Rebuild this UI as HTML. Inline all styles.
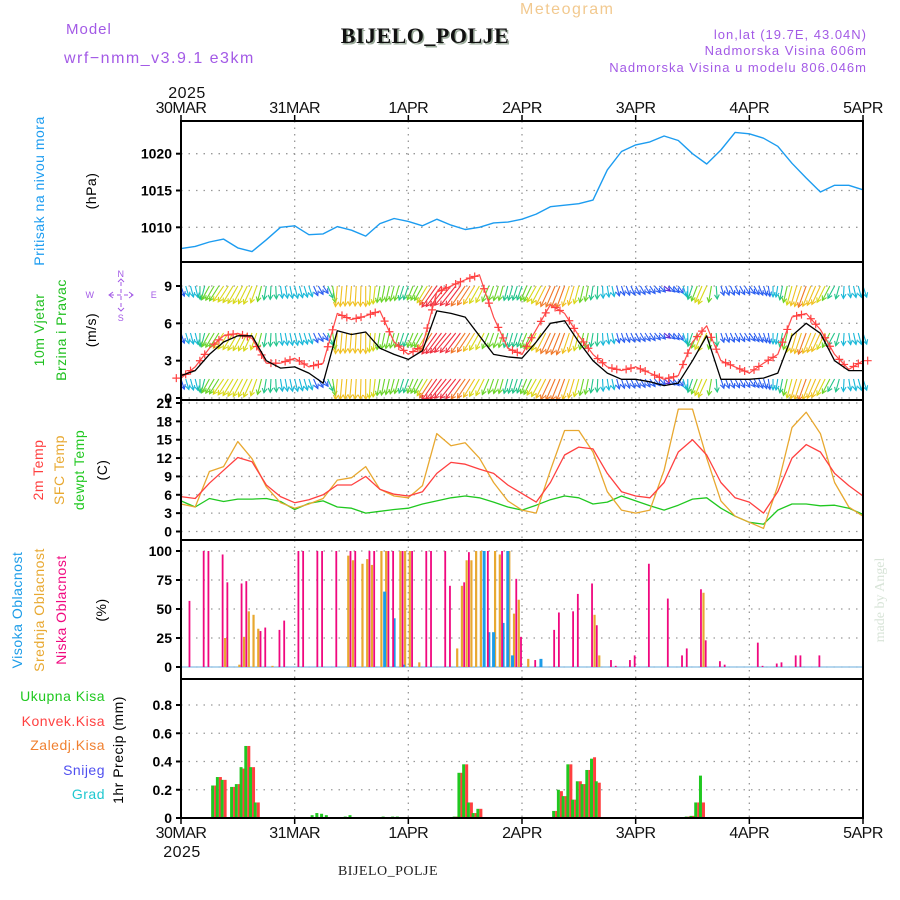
<!DOCTYPE html>
<html><head><meta charset="utf-8"><style>
html,body{margin:0;padding:0;background:#fff;}
svg{display:block;font-family:"Liberation Sans",sans-serif;}
</style></head><body>
<svg id="chart" width="900" height="900" viewBox="0 0 900 900" xmlns="http://www.w3.org/2000/svg">
<rect width="900" height="900" fill="#fff"/>
<text x="66" y="34" font-size="15" fill="#a35ae6" letter-spacing="1">Model</text>
<text x="64" y="63" font-size="16" fill="#a35ae6" letter-spacing="1.5">wrf−nmm_v3.9.1  e3km</text>
<text x="520" y="14" font-size="16" fill="#f2c98f" letter-spacing="1.5">Meteogram</text>
<text x="425" y="43" font-size="22" font-weight="bold" text-anchor="middle" font-family="Liberation Serif,serif" fill="#9a9" letter-spacing="0.5" dx="1.5" dy="1.5">BIJELO_POLJE</text>
<text x="425" y="43" font-size="22" font-weight="bold" text-anchor="middle" font-family="Liberation Serif,serif" fill="#111" letter-spacing="0.5">BIJELO_POLJE</text>
<text x="867" y="39" font-size="13" fill="#a35ae6" text-anchor="end" letter-spacing="1">lon,lat (19.7E, 43.04N)</text>
<text x="867" y="55" font-size="13" fill="#a35ae6" text-anchor="end" letter-spacing="1">Nadmorska Visina 606m</text>
<text x="867" y="72" font-size="13" fill="#a35ae6" text-anchor="end" letter-spacing="1">Nadmorska Visina u modelu 806.046m</text>
<text x="388" y="875" font-size="14" text-anchor="middle" font-family="Liberation Serif,serif" fill="#222" letter-spacing="0.5">BIJELO_POLJE</text>
<text transform="translate(884,600) rotate(-90)" font-size="14" text-anchor="middle" font-family="Liberation Serif,serif" fill="#d8e4d8">made by Angel</text>
<g stroke="#a35ae6" stroke-width="1" fill="none">
<line x1="110" y1="295" x2="132" y2="295" stroke-dasharray="4,3"/>
<line x1="121" y1="282" x2="121" y2="308" stroke-dasharray="4,3"/>
<polyline points="113,292 109,295 113,298"/>
<polyline points="129,292 133,295 129,298"/>
<polyline points="118,282 121,279 124,282"/>
<polyline points="118,308 121,311 124,308"/>
</g>
<g id="g"></g>
</svg>
<script>
// ---- data ----
const dayLabels=["30MAR","31MAR","1APR","2APR","3APR","4APR","5APR"];
const pressure=[1007.1,1007.4,1008,1008.4,1007.2,1006.7,1008.3,1010,1010.2,1009,1009.1,1010.1,1009.6,1008.8,1010.5,1011.2,1010.8,1010.2,1011.1,1010.3,1009.7,1010,1010.6,1010.7,1011.1,1011.8,1012.8,1013,1013.2,1013.7,1017.8,1020.3,1021.2,1021.6,1022.4,1021.8,1020,1018.6,1020.5,1022.9,1022.7,1022.1,1021,1018.7,1016.7,1014.8,1015.7,1015.7,1015.1];
const windSpeed=[1.8,2.2,3.5,4.5,5,5,3,2.4,2.5,2,1.2,5.4,5.1,5.3,4,3.5,3.1,3.8,7,6.8,6.5,5,3.5,3.3,3.2,4.5,6,6.2,4.5,3,2,1.5,1.5,1.3,1.0,1.2,3,5,1.5,1.5,1.5,1.6,2,5,6,5.2,3,2.2,2.2];
const windGust=[1.6,2.5,4,5,5.2,4.8,2.8,2.8,3.2,2.5,2.8,6.8,6.3,6.6,7,4.5,3.5,4.2,8.5,9,9.5,9.9,6.5,4,3.5,5.5,7.5,6.8,5,3.5,2.5,2.2,2.5,2,1.5,1.8,4.5,5.8,3,2.5,2,2.8,3.5,6.5,6.8,5.5,3.5,2.3,3];
const windDir=[340,345,30,35,30,25,10,350,345,340,320,5,5,0,10,15,20,30,35,40,35,30,20,15,20,30,25,20,15,10,350,340,330,320,300,320,20,25,340,330,320,340,10,15,20,25,30,350,340];
const temp2m=[5.7,5.4,7.9,10,12.1,11.4,7.6,5.7,4.7,5.2,6,7.6,7.6,9,6.9,6.1,5.8,6.5,9.5,11.3,11,10.2,9.5,7.6,6.2,4.8,8,12.5,13.8,13.5,9.5,6.5,5.8,5.5,8,13,15,12.5,8,5.5,4.8,3,6.5,12,14.2,13,9.5,7.5,5.8];
const tempSfc=[4.5,4,9.8,10.6,14.7,11.9,7.3,4.7,3.8,4.5,5.4,8.4,8.8,10.6,6.9,5.8,5.5,7.5,16,14,14.5,12,8,5,3.5,3,10,16.5,16.5,13,6.5,3.5,3,3.5,10,20,20,12,5,2.5,1.5,0.5,7.5,17,19.5,16,8,4,2.5];
const tempDew=[5,4,5.4,4.9,5.3,5.3,5.4,4.9,3.6,4.6,5,4,3.8,3,3.3,3.6,3.8,4.5,5,5.5,5.8,5.5,4.8,4,3.5,4.3,5.2,5.8,5.5,4.5,4.8,5.8,5,4.2,3.5,4.3,5.3,5.5,3.8,2.5,1.5,1.2,3.5,4.5,4.5,4.2,4.3,3.8,2.8];
const lowHours=[2,5,6,9,10,13,14,17,18,21,22,25,26,29,30,33,36,37,40,41,44,45,47,49,52,53,56,57,60,61,65,68,71,72,75,79,80,83,84,87,88,91,92,95,96,99,103,106,107,110,111,114,115,122,123,126,127,130,131,135];
const lowVals=[57,100,100,97,73,72,74,31,34,32,40,100,100,100,100,100,100,100,100,100,100,100,100,100,100,100,100,70,73,99,100,100,76,26,6,32,47,48,63,72,36,6,1,6,10,89,59,10,16,67,23,5,2,21,1,3,4,10,10,10];
const midHours=[9,12,13,14,15,16,19,35,36,38,39,40,42,43,46,47,48,50,58,59,60,61,62,63,66,67,69,70,71,73,87,88,110];
const midVals=[25,2,26,48,45,33,1,96,92,89,93,88,100,100,100,100,100,4,16,70,92,92,100,100,100,97,100,46,58,7,45,10,64];
const highHours=[43,45,47,64,65,66,68,69,70,76];
const highVals=[65,42,2,100,30,30,38,100,10,7];
const precipHours=[7,8,9,11,12,13,14,15,16,28,29,30,31,35,36,43,45,46,58,59,60,61,62,63,79,80,81,82,83,84,85,86,87,88,107,108,109,110,111];
const precipTotal=[0.23,0.29,0.27,0.22,0.24,0.36,0.51,0.36,0.11,0.02,0.035,0.03,0.02,0.01,0.02,0.01,0.01,0.01,0.01,0.32,0.38,0.11,0.035,0.065,0.05,0.2,0.155,0.38,0.13,0.26,0.24,0.34,0.42,0.26,0.01,0.015,0.11,0.3,0.005];
const precipConv=[0.23,0.29,0.27,0.22,0.24,0.35,0.51,0.36,0.11,0,0,0,0,0,0,0,0,0,0.01,0.32,0.38,0.11,0.035,0.065,0.05,0.19,0.155,0.38,0.13,0.26,0.24,0.34,0.43,0.25,0.01,0.015,0.11,0.11,0.005];
const pTicks=[1010,1015,1020];
const wTicks=[0,3,6,9];
const tTicks=[0,3,6,9,12,15,18,21];
const cTicks=[0,25,50,75,100];
const rTicks=[0,0.2,0.4,0.6,0.8];

// ---- layout ----
const X0=181,X1=863;
const NS='http://www.w3.org/2000/svg';
const G=document.getElementById('g');
function mk(tag,attrs,parent){const e=document.createElementNS(NS,tag);for(const k in attrs)e.setAttribute(k,attrs[k]);(parent||G).appendChild(e);return e;}
const xDay=d=>X0+(X1-X0)*d/6;
const xHour=h=>xDay(h/24);
const xIdx=i=>xDay(i*0.125);
const panels={
 p:{top:121,bot:262,v0:1010,y0:227.3,v1:1020,y1:153.7},
 w:{top:262,bot:400,v0:0,y0:398,v1:9,y1:286},
 t:{top:400,bot:540,v0:0,y0:531.5,v1:21,y1:403},
 c:{top:540,bot:679,v0:0,y0:667,v1:100,y1:551},
 r:{top:679,bot:818,v0:0,y0:818,v1:0.8,y1:705}
};
function yS(p){return v=>p.y0+(v-p.v0)*(p.y1-p.y0)/(p.v1-p.v0);}
const yP=yS(panels.p),yW=yS(panels.w),yT=yS(panels.t),yC=yS(panels.c),yR=yS(panels.r);

function gridAndAxes(key,p,ticks,ys,fmt){
  const gg=mk('g',{});
  
  
  for(let d=1;d<6;d++){
    const l=mk('line',{x1:xDay(d),x2:xDay(d),y1:p.top,y2:p.bot,stroke:'#999','stroke-width':1.3,'stroke-dasharray':'1.5,5'},gg);
    
    
  }
  ticks.forEach(v=>{
    const y=ys(v);
    const l=mk('line',{x1:X0,x2:X1,y1:y,y2:y,stroke:'#999','stroke-width':1.3,'stroke-dasharray':'1.5,6'},gg);
    
    
    mk('line',{x1:X0-5,x2:X0,y1:y,y2:y,stroke:'#000','stroke-width':2},gg);
    const t=mk('text',{x:X0-9,y:y+5,'font-size':14,'text-anchor':'end',fill:'#000','font-weight':'bold'},gg);
    t.textContent=fmt(v);
    
    
  });
}
gridAndAxes('pressure',panels.p,pTicks,yP,v=>v);
gridAndAxes('wind',panels.w,wTicks,yW,v=>v);
gridAndAxes('temp',panels.t,tTicks,yT,v=>v);
gridAndAxes('cloud',panels.c,cTicks,yC,v=>v);
gridAndAxes('precip',panels.r,rTicks,yR,v=>v===0?'0':v.toFixed(1));

function polyline(vals,xf,ys,color,w,name){
  const pts=vals.map((v,i)=>xf(i).toFixed(1)+','+ys(v).toFixed(1)).join(' ');
  const l=mk('polyline',{points:pts,fill:'none',stroke:color,'stroke-width':w,'stroke-linejoin':'round'});
  
  
  return l;
}
polyline(pressure,xIdx,yP,'#1c9cf0',1.4,'pressure-line');

function windColor(s){
  const stops=[[1,'#5a28d0'],[1.8,'#2a5ef0'],[2.5,'#18b8d8'],[3.3,'#22c48a'],[4.2,'#6ad42a'],[5,'#d8d818'],[5.8,'#f0c020'],[6.5,'#f07828'],[7.5,'#f03040'],[9,'#f0109a']];
  for(let i=0;i<stops.length;i++){if(s<=stops[i][0])return stops[i][1];}
  return stops[stops.length-1][1];
}
const barbG=mk('g',{});


const rows=[286,333,379];
for(let h=0;h<=144;h++){
  const f=h/3,i=Math.min(Math.floor(f),47),fr=f-i;
  const s=windSpeed[i]*(1-fr)+windSpeed[i+1]*fr;
  let d1=windDir[i],d2=windDir[i+1];let dd=d2-d1;if(dd>180)dd-=360;if(dd<-180)dd+=360;
  const dir=(d1+dd*fr)*Math.PI/180;
  const len=4+s*3.1;
  const dx=-Math.sin(dir)*len, dy=Math.cos(dir)*len*0.9+2;
  const c=windColor(s);
  const x=xHour(h);
  rows.forEach(y0=>{
    const x2=x+dx,y2=y0+Math.abs(dy);
    mk('line',{x1:x,y1:y0,x2:x2,y2:y2,stroke:c,'stroke-width':1.1},barbG);
    const a=Math.atan2(y2-y0,x2-x);
    mk('polyline',{points:`${x2-5*Math.cos(a-0.5)},${y2-5*Math.sin(a-0.5)} ${x2},${y2} ${x2-5*Math.cos(a+0.5)},${y2-5*Math.sin(a+0.5)}`,fill:'none',stroke:c,'stroke-width':1.1},barbG);
  });
}
polyline(windGust,xIdx,yW,'#ff4a4a',1.2,'wind-gust-line');
const gm=mk('g',{});


windGust.forEach((v,i)=>{
  for(const o of [-0.33,0.33]){
    const x=xDay((i+o)*0.125),j=Math.min(i+(o>0?1:-1),48),jj=Math.max(j,0);
    const vv=v+(windGust[jj]-v)*0.33;
    const y=yW(vv);
    mk('path',{d:`M${x-4},${y}h8M${x},${y-4}v8`,stroke:'#ff4040','stroke-width':1.2},gm);
  }
});
polyline(windSpeed,xIdx,yW,'#000',1.3,'wind-speed-line');

polyline(tempDew,xIdx,yT,'#20c820',1.3,'dewpoint-line');
polyline(tempSfc,xIdx,yT,'#e8a830',1.3,'sfc-temp-line');
polyline(temp2m,xIdx,yT,'#ff4040',1.3,'temp-2m-line');

mk('line',{x1:X0,x2:X1,y1:yC(0),y2:yC(0),stroke:'#9cc8e8','stroke-width':1.5});
function cloudBars(hours,vals,color,off,w,name){
  hours.forEach((h,i)=>{
    const x=xHour(h)+off,y=yC(vals[i]);
    const r=mk('rect',{x:x-w/2,y:y,width:w,height:yC(0)-y,fill:color});
    
    
  });
}
cloudBars(midHours,midVals,'#e8a830',1.5,2.2,'mid-cloud-bar');
cloudBars(highHours,highVals,'#1c9ce8',0,3,'high-cloud-bar');
cloudBars(lowHours,lowVals,'#f0087f',-1,1.8,'low-cloud-bar');

precipHours.forEach((h,i)=>{
  const x=xHour(h);
  const yt=yR(precipTotal[i]),yc=yR(precipConv[i]);
  const g1=mk('rect',{x:x-3,y:yt,width:3,height:yR(0)-yt,fill:'#20c820'});
  
  
  const r1=mk('rect',{x:x,y:yc,width:3,height:yR(0)-yc,fill:'#ff4040'});
  
  
});

[['pressure-panel',121,262],['wind-panel',262,400],['temp-panel',400,540],['cloud-panel',540,679],['precip-panel',679,818]].forEach(([n,t,b])=>{
  const r=mk('rect',{x:X0,y:t,width:X1-X0,height:b-t,fill:'none',stroke:'#000','stroke-width':2});
  
  
});
dayLabels.forEach((lab,d)=>{
  const x=xDay(d);
  mk('line',{x1:x,x2:x,y1:115,y2:121,stroke:'#000','stroke-width':1.5});
  mk('line',{x1:x,x2:x,y1:818,y2:824,stroke:'#000','stroke-width':1.5});
  const t=mk('text',{x:x,y:113,'font-size':16,'text-anchor':'middle',fill:'#111','letter-spacing':'-0.5'});
  t.textContent=lab;
  
  
  const b=mk('text',{x:x,y:838,'font-size':16,'text-anchor':'middle',fill:'#111','letter-spacing':'-0.5'});
  b.textContent=lab;
  
  
});
function txt(x,y,s,size,col,name,rot,anchor){
  const t=mk('text',{x:0,y:0,'font-size':size,fill:col,'text-anchor':anchor||'middle',transform:`translate(${x},${y})`+(rot?' rotate(-90)':''),'letter-spacing':'0.5'});
  t.textContent=s;
  
  
}
txt(187,98,'2025',16,'#111','top-year');
txt(182,857,'2025',16,'#111','bottom-year');
txt(44,191,'Pritisak na nivou mora',14,'#1c9cf0','pressure-title',1);
txt(96,191,'(hPa)',14,'#000','pressure-unit',1);
txt(44,330,'10m Vjetar',14,'#20c020','wind-title-1',1);
txt(66,330,'Brzina i Pravac',14,'#20c020','wind-title-2',1);
txt(96,330,'(m/s)',14,'#000','wind-unit',1);
txt(43,470,'2m Temp',14,'#ff4040','temp-2m-title',1);
txt(64,470,'SFC Temp',14,'#e8a830','sfc-temp-title',1);
txt(84,470,'dewpt Temp',14,'#20c820','dewpt-title',1);
txt(107,470,'(C)',14,'#000','temp-unit',1);
txt(22,610,'Visoka Oblacnost',14,'#1c9ce8','high-cloud-title',1);
txt(44,610,'Srednja Oblacnost',14,'#e8a830','mid-cloud-title',1);
txt(66,610,'Niska Oblacnost',14,'#f0087f','low-cloud-title',1);
txt(106,610,'(%)',14,'#000','cloud-unit',1);
txt(123,750,'1hr Precip (mm)',14,'#000','precip-title',1);
txt(105,701,'Ukupna Kisa',14,'#20c820','legend-total','', 'end');
txt(105,726,'Konvek.Kisa',14,'#ff4040','legend-convective','', 'end');
txt(105,750,'Zaledj.Kisa',14,'#f08030','legend-freezing','', 'end');
txt(105,775,'Snijeg',14,'#5050f0','legend-snow','', 'end');
txt(105,799,'Grad',14,'#20c8d0','legend-hail','', 'end');
txt(121,277,'N',9,'#a35ae6','compass-n');
txt(90,298,'W',9,'#a35ae6','compass-w');
txt(154,298,'E',9,'#a35ae6','compass-e');
txt(121,321,'S',9,'#a35ae6','compass-s');
</script>
</body></html>
